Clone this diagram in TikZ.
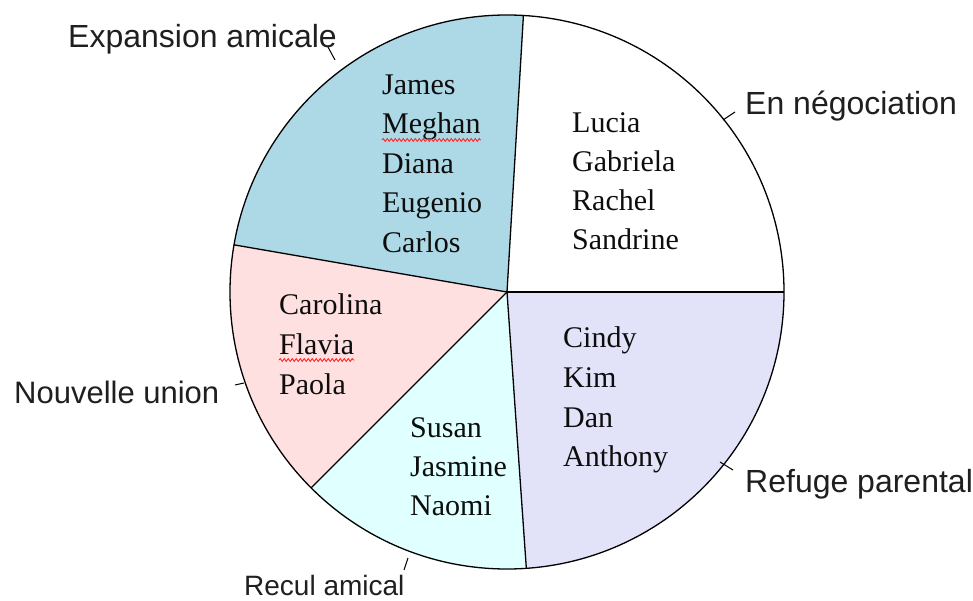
\documentclass[tikz,border=0pt]{standalone}
\usepackage{fontspec}
\setmainfont{Liberation Serif}
\newfontfamily\labfont{Liberation Sans}
\usetikzlibrary{decorations.pathmorphing}
\definecolor{cblue}{HTML}{ADD8E6}
\definecolor{cpink}{HTML}{FFE0E0}
\definecolor{ccyan}{HTML}{E0FFFF}
\definecolor{clav}{HTML}{E2E2F8}
\begin{document}
\begin{tikzpicture}[x=1pt,y=1pt,
  nm/.style={anchor=base west, inner sep=0pt, font=\fontsize{30}{36}\selectfont, text=black!95},
  lab/.style={anchor=base west, inner sep=0pt, font=\labfont\fontsize{32}{38}\selectfont, text=black!88},
  tickline/.style={line width=1pt},
  edge/.style={line width=1.3pt},
  wavy/.style={red!85, decorate, decoration={snake, amplitude=1.4pt, segment length=4pt}, line width=0.9pt}]
\useasboundingbox (0,0) rectangle (973,600);
\coordinate (c) at (507,308);
\def\R{277}
\fill[cblue] (c) -- ++(86.6:\R) arc[start angle=86.6, end angle=170.2, radius=\R] -- cycle;
\fill[cpink] (c) -- ++(170.2:\R) arc[start angle=170.2, end angle=225, radius=\R] -- cycle;
\fill[ccyan] (c) -- ++(225:\R) arc[start angle=225, end angle=274, radius=\R] -- cycle;
\fill[clav] (c) -- ++(274:\R) arc[start angle=274, end angle=360, radius=\R] -- cycle;
\draw[edge] (c) circle[radius=\R];
\draw[edge] (c) -- ++(86.6:\R) coordinate (b1);
\draw[edge] (c) -- ++(170.2:\R) coordinate (b2);
\draw[edge] (c) -- ++(225:\R) coordinate (b3);
\draw[edge] (c) -- ++(274:\R) coordinate (b4);
\draw[edge] (c) -- ++(0:\R) coordinate (b5);

% blue slice
\node[nm] (n1) at (382,505) {James};
\node[nm] (n2) at (382,466) {Meghan};
\node[nm] (n3) at (382,426) {Diana};
\node[nm] (n4) at (382,387) {Eugenio};
\node[nm] (n5) at (382,347) {Carlos};
% white slice
\node[nm] (n6) at (572,467) {Lucia};
\node[nm] (n7) at (572,428) {Gabriela};
\node[nm] (n8) at (572,389) {Rachel};
\node[nm] (n9) at (572,350) {Sandrine};
% pink slice
\node[nm] (n10) at (279,285) {Carolina};
\node[nm] (n11) at (279,246) {Flavia};
\node[nm] (n12) at (279,206) {Paola};
% cyan slice
\node[nm] (n13) at (410,163) {Susan};
\node[nm] (n14) at (410,124) {Jasmine};
\node[nm] (n15) at (410,85) {Naomi};
% lavender slice
\node[nm] (n16) at (563,253) {Cindy};
\node[nm] (n17) at (563,213) {Kim};
\node[nm] (n18) at (563,173) {Dan};
\node[nm] (n19) at (563,134) {Anthony};

% spellcheck underlines
\draw[wavy] ([yshift=-6pt]n2.base west) -- ([yshift=-6pt]n2.base east);
\draw[wavy] ([yshift=-6pt]n11.base west) -- ([yshift=-6pt]n11.base east);

% outer labels
\node[lab] (l1) at (68,552) {Expansion amicale};
\node[lab] (l2) at (745,485) {En négociation};
\node[lab] (l3) at (745,108) {Refuge parental};
\node[lab, font=\labfont\fontsize{31}{37}\selectfont] (l4) at (14,197) {Nouvelle union};
\node[lab, font=\labfont\fontsize{28}{34}\selectfont] (l5) at (244,5) {Recul amical};

% leader ticks
\coordinate (t1a) at (328,553); \coordinate (t1b) at (335,540);
\coordinate (t2a) at (723,480); \coordinate (t2b) at (735,488);
\coordinate (t3a) at (720,138); \coordinate (t3b) at (733,130);
\coordinate (t4a) at (235,215); \coordinate (t4b) at (244,217);
\coordinate (t5a) at (404,30);  \coordinate (t5b) at (408,42);
\draw[tickline] (t1a) -- (t1b);
\draw[tickline] (t2a) -- (t2b);
\draw[tickline] (t3a) -- (t3b);
\draw[tickline] (t4a) -- (t4b);
\draw[tickline] (t5a) -- (t5b);
\end{tikzpicture}
\end{document}
